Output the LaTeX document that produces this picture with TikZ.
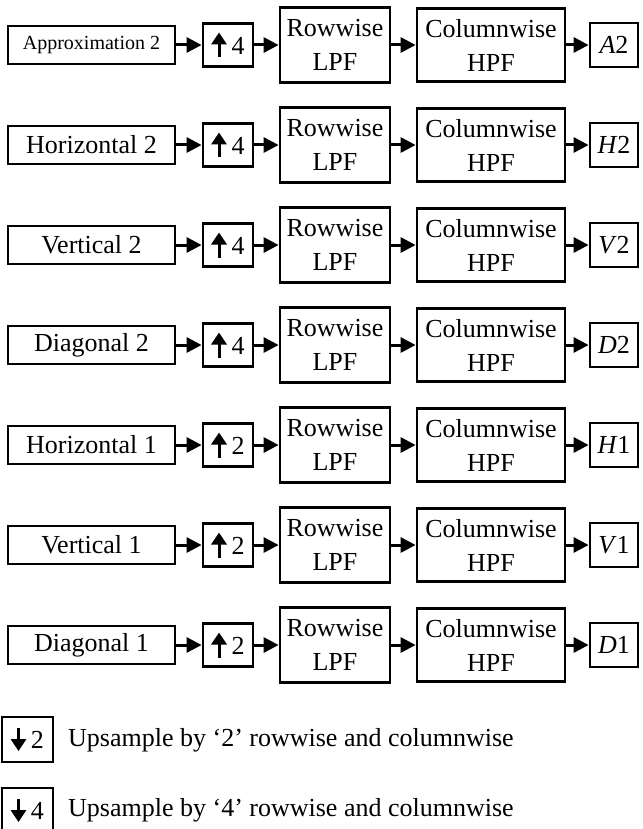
\documentclass[tikz,border=0pt]{standalone}
\usepackage{fontspec}
\setmainfont{Liberation Serif}
\usetikzlibrary{arrows.meta}
\newcommand{\uparr}{\tikz[baseline=0pt]\draw[line width=3pt,-{Triangle[length=12pt,width=15pt]}] (0pt,-3pt) -- (0pt,22pt);}
\newcommand{\downarr}{\tikz[baseline=0pt]\draw[line width=3pt,-{Triangle[length=12pt,width=15pt]}] (0pt,20pt) -- (0pt,-3pt);}
\begin{document}
\begin{tikzpicture}[x=1pt,y=-1pt,
  blk/.style={draw,line width=2.8pt,inner sep=0pt,font=\fontsize{26}{34}\selectfont,align=center},
  inbox/.style={blk,minimum width=167pt,minimum height=38pt},
  upbox/.style={blk,minimum width=50pt,minimum height=43pt},
  rowbox/.style={blk,minimum width=110pt,minimum height=75pt},
  colbox/.style={blk,minimum width=148pt,minimum height=73pt},
  outbox/.style={blk,minimum width=48pt,minimum height=44pt},
  conn/.style={line width=3pt,-{Triangle[length=15pt,width=15pt]}}]
\useasboundingbox (0,0) rectangle (642,829);
\node [inbox,font=\fontsize{20}{24}\selectfont] (in1) at (91.5,45) {Approximation 2};
\node [upbox] (up1) at (228,45) {\uparr\hspace{5pt}4};
\node [rowbox] (lpf1) at (335,45) {Rowwise\\LPF};
\node [colbox] (hpf1) at (491,45) {Columnwise\\HPF};
\node [outbox] (out1) at (614,45) {\textit{A}2};
\draw [conn] (in1) -- (up1);
\draw [conn] (up1) -- (lpf1);
\draw [conn] (lpf1) -- (hpf1);
\draw [conn] (hpf1) -- (out1);
\node [inbox] (in2) at (91.5,145) {Horizontal 2};
\node [upbox] (up2) at (228,145) {\uparr\hspace{5pt}4};
\node [rowbox] (lpf2) at (335,145) {Rowwise\\LPF};
\node [colbox] (hpf2) at (491,145) {Columnwise\\HPF};
\node [outbox] (out2) at (614,145) {\textit{H}2};
\draw [conn] (in2) -- (up2);
\draw [conn] (up2) -- (lpf2);
\draw [conn] (lpf2) -- (hpf2);
\draw [conn] (hpf2) -- (out2);
\node [inbox] (in3) at (91.5,245) {Vertical 2};
\node [upbox] (up3) at (228,245) {\uparr\hspace{5pt}4};
\node [rowbox] (lpf3) at (335,245) {Rowwise\\LPF};
\node [colbox] (hpf3) at (491,245) {Columnwise\\HPF};
\node [outbox] (out3) at (614,245) {\textit{V}2};
\draw [conn] (in3) -- (up3);
\draw [conn] (up3) -- (lpf3);
\draw [conn] (lpf3) -- (hpf3);
\draw [conn] (hpf3) -- (out3);
\node [inbox] (in4) at (91.5,345) {Diagonal 2};
\node [upbox] (up4) at (228,345) {\uparr\hspace{5pt}4};
\node [rowbox] (lpf4) at (335,345) {Rowwise\\LPF};
\node [colbox] (hpf4) at (491,345) {Columnwise\\HPF};
\node [outbox] (out4) at (614,345) {\textit{D}2};
\draw [conn] (in4) -- (up4);
\draw [conn] (up4) -- (lpf4);
\draw [conn] (lpf4) -- (hpf4);
\draw [conn] (hpf4) -- (out4);
\node [inbox] (in5) at (91.5,445) {Horizontal 1};
\node [upbox] (up5) at (228,445) {\uparr\hspace{5pt}2};
\node [rowbox] (lpf5) at (335,445) {Rowwise\\LPF};
\node [colbox] (hpf5) at (491,445) {Columnwise\\HPF};
\node [outbox] (out5) at (614,445) {\textit{H}1};
\draw [conn] (in5) -- (up5);
\draw [conn] (up5) -- (lpf5);
\draw [conn] (lpf5) -- (hpf5);
\draw [conn] (hpf5) -- (out5);
\node [inbox] (in6) at (91.5,545) {Vertical 1};
\node [upbox] (up6) at (228,545) {\uparr\hspace{5pt}2};
\node [rowbox] (lpf6) at (335,545) {Rowwise\\LPF};
\node [colbox] (hpf6) at (491,545) {Columnwise\\HPF};
\node [outbox] (out6) at (614,545) {\textit{V}1};
\draw [conn] (in6) -- (up6);
\draw [conn] (up6) -- (lpf6);
\draw [conn] (lpf6) -- (hpf6);
\draw [conn] (hpf6) -- (out6);
\node [inbox] (in7) at (91.5,645) {Diagonal 1};
\node [upbox] (up7) at (228,645) {\uparr\hspace{5pt}2};
\node [rowbox] (lpf7) at (335,645) {Rowwise\\LPF};
\node [colbox] (hpf7) at (491,645) {Columnwise\\HPF};
\node [outbox] (out7) at (614,645) {\textit{D}1};
\draw [conn] (in7) -- (up7);
\draw [conn] (up7) -- (lpf7);
\draw [conn] (lpf7) -- (hpf7);
\draw [conn] (hpf7) -- (out7);
\node [blk,minimum width=51pt,minimum height=45pt] (key2) at (27.5,739.5) {\downarr\hspace{5pt}2};
\node [font=\fontsize{26}{32}\selectfont,anchor=west,inner sep=0pt] (txt2) at (68,740) {Upsample by ‘2’ rowwise and columnwise};
\node [blk,minimum width=51pt,minimum height=45pt] (key4) at (27.5,810.5) {\downarr\hspace{5pt}4};
\node [font=\fontsize{26}{32}\selectfont,anchor=west,inner sep=0pt] (txt4) at (68,810) {Upsample by ‘4’ rowwise and columnwise};
\end{tikzpicture}
\end{document}
